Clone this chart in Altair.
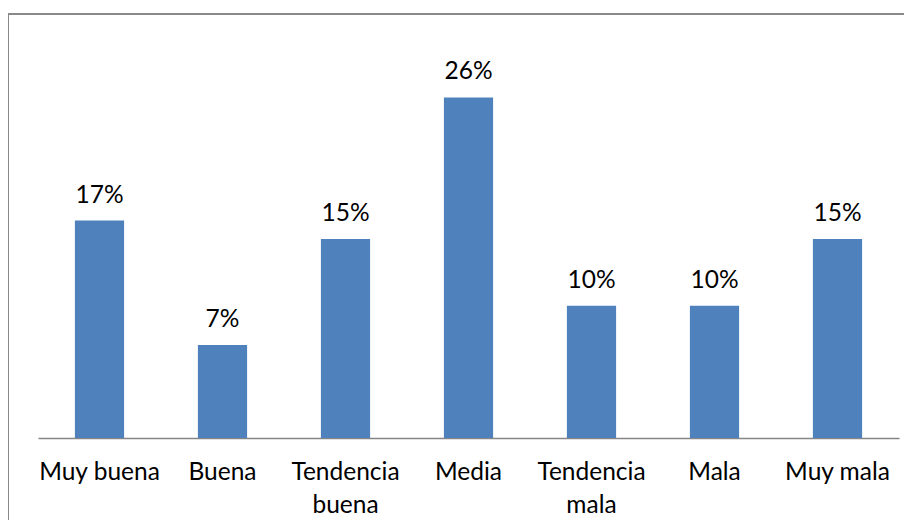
import altair as alt
import pandas as pd

categories = ["Muy buena", "Buena", "Tendencia|buena", "Media", "Tendencia|mala", "Mala", "Muy mala"]
values = [16.6, 7.1, 15.2, 26.0, 10.1, 10.1, 15.2]
labels = ["17%", "7%", "15%", "26%", "10%", "10%", "15%"]

df = pd.DataFrame({"cat": categories, "val": values, "lab": labels})

FONT = "Lato"
FS = 24.5

x = alt.X("cat:N", sort=categories, title=None,
          scale=alt.Scale(paddingInner=0.6, paddingOuter=0.3),
          axis=alt.Axis(labelAngle=0, ticks=False, domainColor="#868686", domainWidth=1.5,
                        labelFont=FONT, labelFontSize=FS, labelColor="#000000",
                        labelPadding=22, labelLineHeight=33, labelBaseline="top",
                        labelExpr="split(datum.label, '|')"))
y = alt.Y("val:Q", scale=alt.Scale(domain=[0, 30]), axis=None)

bars = alt.Chart(df).mark_bar(color="#4F81BD").encode(x=x, y=y)
text = alt.Chart(df).mark_text(font=FONT, fontSize=FS, color="#000000", baseline="alphabetic", dy=-18).encode(
    x=alt.X("cat:N", sort=categories), y="val:Q", text="lab:N")

border = alt.Chart(df).mark_rect(fill=None, stroke="#898989", strokeWidth=1.5, clip=False).encode(
    x=alt.value(-30), x2=alt.value(1000), y=alt.value(-31), y2=alt.value(700))

chart = alt.layer(bars, text, border).properties(
    width=861, height=393, padding={"left": 30, "top": 37, "right": 5, "bottom": 82},
    autosize=alt.AutoSizeParams(type="none")
).configure_view(stroke=None)

chart.save("out.html", embed_options={"renderer": "svg", "actions": False})
